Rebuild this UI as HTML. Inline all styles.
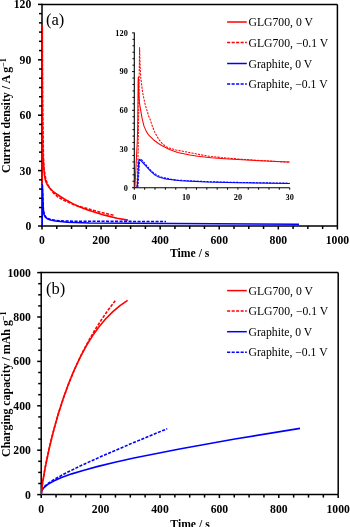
<!DOCTYPE html><html><head><meta charset="utf-8"><style>html,body{margin:0;padding:0;background:#fff;width:350px;height:527px;overflow:hidden}</style></head><body><svg width="350" height="527" viewBox="0 0 350 527" style="display:block;will-change:transform;font-family:'Liberation Serif',serif">
<defs><clipPath id="ca"><rect x="42.0" y="4.4" width="295.4" height="221.6"/></clipPath><clipPath id="ci"><rect x="134.3" y="30.9" width="156.39999999999998" height="156.79999999999998"/></clipPath><clipPath id="cb"><rect x="41.2" y="272.6" width="297.0" height="222.0"/></clipPath></defs>
<rect x="0" y="0" width="350" height="527" fill="#fff"/>
<line x1="42.00" y1="4.40" x2="337.40" y2="4.40" stroke="#000" stroke-width="1.5" />
<line x1="337.40" y1="4.40" x2="337.40" y2="226.00" stroke="#000" stroke-width="1.5" />
<line x1="42.00" y1="226.00" x2="337.40" y2="226.00" stroke="#000" stroke-width="1.5" />
<line x1="42.00" y1="3.65" x2="42.00" y2="226.75" stroke="#000" stroke-width="1.5" />
<line x1="38.00" y1="226.00" x2="42.00" y2="226.00" stroke="#000" stroke-width="1.5" />
<line x1="39.00" y1="216.77" x2="42.00" y2="216.77" stroke="#000" stroke-width="1.5" />
<line x1="39.00" y1="207.53" x2="42.00" y2="207.53" stroke="#000" stroke-width="1.5" />
<line x1="39.00" y1="198.30" x2="42.00" y2="198.30" stroke="#000" stroke-width="1.5" />
<line x1="39.00" y1="189.07" x2="42.00" y2="189.07" stroke="#000" stroke-width="1.5" />
<line x1="39.00" y1="179.83" x2="42.00" y2="179.83" stroke="#000" stroke-width="1.5" />
<line x1="38.00" y1="170.60" x2="42.00" y2="170.60" stroke="#000" stroke-width="1.5" />
<line x1="39.00" y1="161.37" x2="42.00" y2="161.37" stroke="#000" stroke-width="1.5" />
<line x1="39.00" y1="152.13" x2="42.00" y2="152.13" stroke="#000" stroke-width="1.5" />
<line x1="39.00" y1="142.90" x2="42.00" y2="142.90" stroke="#000" stroke-width="1.5" />
<line x1="39.00" y1="133.67" x2="42.00" y2="133.67" stroke="#000" stroke-width="1.5" />
<line x1="39.00" y1="124.43" x2="42.00" y2="124.43" stroke="#000" stroke-width="1.5" />
<line x1="38.00" y1="115.20" x2="42.00" y2="115.20" stroke="#000" stroke-width="1.5" />
<line x1="39.00" y1="105.97" x2="42.00" y2="105.97" stroke="#000" stroke-width="1.5" />
<line x1="39.00" y1="96.73" x2="42.00" y2="96.73" stroke="#000" stroke-width="1.5" />
<line x1="39.00" y1="87.50" x2="42.00" y2="87.50" stroke="#000" stroke-width="1.5" />
<line x1="39.00" y1="78.27" x2="42.00" y2="78.27" stroke="#000" stroke-width="1.5" />
<line x1="39.00" y1="69.03" x2="42.00" y2="69.03" stroke="#000" stroke-width="1.5" />
<line x1="38.00" y1="59.80" x2="42.00" y2="59.80" stroke="#000" stroke-width="1.5" />
<line x1="39.00" y1="50.57" x2="42.00" y2="50.57" stroke="#000" stroke-width="1.5" />
<line x1="39.00" y1="41.33" x2="42.00" y2="41.33" stroke="#000" stroke-width="1.5" />
<line x1="39.00" y1="32.10" x2="42.00" y2="32.10" stroke="#000" stroke-width="1.5" />
<line x1="39.00" y1="22.87" x2="42.00" y2="22.87" stroke="#000" stroke-width="1.5" />
<line x1="39.00" y1="13.63" x2="42.00" y2="13.63" stroke="#000" stroke-width="1.5" />
<line x1="38.00" y1="4.40" x2="42.00" y2="4.40" stroke="#000" stroke-width="1.5" />
<text x="31.30" y="229.90" font-size="11.7" font-weight="bold" text-anchor="end" >0</text>
<text x="31.30" y="174.50" font-size="11.7" font-weight="bold" text-anchor="end" >30</text>
<text x="31.30" y="119.10" font-size="11.7" font-weight="bold" text-anchor="end" >60</text>
<text x="31.30" y="63.70" font-size="11.7" font-weight="bold" text-anchor="end" >90</text>
<text x="31.30" y="8.30" font-size="11.7" font-weight="bold" text-anchor="end" >120</text>
<line x1="42.00" y1="226.00" x2="42.00" y2="229.50" stroke="#000" stroke-width="1.5" />
<line x1="56.77" y1="226.00" x2="56.77" y2="229.00" stroke="#000" stroke-width="1.5" />
<line x1="71.54" y1="226.00" x2="71.54" y2="229.00" stroke="#000" stroke-width="1.5" />
<line x1="86.31" y1="226.00" x2="86.31" y2="229.00" stroke="#000" stroke-width="1.5" />
<line x1="101.08" y1="226.00" x2="101.08" y2="229.50" stroke="#000" stroke-width="1.5" />
<line x1="115.85" y1="226.00" x2="115.85" y2="229.00" stroke="#000" stroke-width="1.5" />
<line x1="130.62" y1="226.00" x2="130.62" y2="229.00" stroke="#000" stroke-width="1.5" />
<line x1="145.39" y1="226.00" x2="145.39" y2="229.00" stroke="#000" stroke-width="1.5" />
<line x1="160.16" y1="226.00" x2="160.16" y2="229.50" stroke="#000" stroke-width="1.5" />
<line x1="174.93" y1="226.00" x2="174.93" y2="229.00" stroke="#000" stroke-width="1.5" />
<line x1="189.70" y1="226.00" x2="189.70" y2="229.00" stroke="#000" stroke-width="1.5" />
<line x1="204.47" y1="226.00" x2="204.47" y2="229.00" stroke="#000" stroke-width="1.5" />
<line x1="219.24" y1="226.00" x2="219.24" y2="229.50" stroke="#000" stroke-width="1.5" />
<line x1="234.01" y1="226.00" x2="234.01" y2="229.00" stroke="#000" stroke-width="1.5" />
<line x1="248.78" y1="226.00" x2="248.78" y2="229.00" stroke="#000" stroke-width="1.5" />
<line x1="263.55" y1="226.00" x2="263.55" y2="229.00" stroke="#000" stroke-width="1.5" />
<line x1="278.32" y1="226.00" x2="278.32" y2="229.50" stroke="#000" stroke-width="1.5" />
<line x1="293.09" y1="226.00" x2="293.09" y2="229.00" stroke="#000" stroke-width="1.5" />
<line x1="307.86" y1="226.00" x2="307.86" y2="229.00" stroke="#000" stroke-width="1.5" />
<line x1="322.63" y1="226.00" x2="322.63" y2="229.00" stroke="#000" stroke-width="1.5" />
<line x1="337.40" y1="226.00" x2="337.40" y2="229.50" stroke="#000" stroke-width="1.5" />
<text x="42.00" y="243.70" font-size="11.7" font-weight="bold" text-anchor="middle" >0</text>
<text x="101.08" y="243.70" font-size="11.7" font-weight="bold" text-anchor="middle" >200</text>
<text x="160.16" y="243.70" font-size="11.7" font-weight="bold" text-anchor="middle" >400</text>
<text x="219.24" y="243.70" font-size="11.7" font-weight="bold" text-anchor="middle" >600</text>
<text x="278.32" y="243.70" font-size="11.7" font-weight="bold" text-anchor="middle" >800</text>
<text x="337.40" y="243.70" font-size="11.7" font-weight="bold" text-anchor="middle" >1000</text>
<text x="189.70" y="256.90" font-size="11.7" font-weight="bold" text-anchor="middle" >Time / s</text>
<text transform="translate(10.2,172.9) rotate(-90)" font-size="11.9" font-weight="bold">Current density / A g<tspan font-size="8" dy="-4.5">&#8722;1</tspan></text>
<text x="46.00" y="24.80" font-size="16.5" font-weight="normal" text-anchor="start" >(a)</text>
<line x1="134.30" y1="32.40" x2="134.30" y2="188.20" stroke="#000" stroke-width="1.1" />
<line x1="134.30" y1="187.70" x2="289.70" y2="187.70" stroke="#000" stroke-width="1.1" />
<line x1="132.10" y1="187.70" x2="134.30" y2="187.70" stroke="#000" stroke-width="1.0" />
<line x1="132.50" y1="181.25" x2="134.30" y2="181.25" stroke="#000" stroke-width="1.0" />
<line x1="132.50" y1="174.80" x2="134.30" y2="174.80" stroke="#000" stroke-width="1.0" />
<line x1="132.50" y1="168.35" x2="134.30" y2="168.35" stroke="#000" stroke-width="1.0" />
<line x1="132.50" y1="161.90" x2="134.30" y2="161.90" stroke="#000" stroke-width="1.0" />
<line x1="132.50" y1="155.45" x2="134.30" y2="155.45" stroke="#000" stroke-width="1.0" />
<line x1="132.10" y1="149.00" x2="134.30" y2="149.00" stroke="#000" stroke-width="1.0" />
<line x1="132.50" y1="142.55" x2="134.30" y2="142.55" stroke="#000" stroke-width="1.0" />
<line x1="132.50" y1="136.10" x2="134.30" y2="136.10" stroke="#000" stroke-width="1.0" />
<line x1="132.50" y1="129.65" x2="134.30" y2="129.65" stroke="#000" stroke-width="1.0" />
<line x1="132.50" y1="123.20" x2="134.30" y2="123.20" stroke="#000" stroke-width="1.0" />
<line x1="132.50" y1="116.75" x2="134.30" y2="116.75" stroke="#000" stroke-width="1.0" />
<line x1="132.10" y1="110.30" x2="134.30" y2="110.30" stroke="#000" stroke-width="1.0" />
<line x1="132.50" y1="103.85" x2="134.30" y2="103.85" stroke="#000" stroke-width="1.0" />
<line x1="132.50" y1="97.40" x2="134.30" y2="97.40" stroke="#000" stroke-width="1.0" />
<line x1="132.50" y1="90.95" x2="134.30" y2="90.95" stroke="#000" stroke-width="1.0" />
<line x1="132.50" y1="84.50" x2="134.30" y2="84.50" stroke="#000" stroke-width="1.0" />
<line x1="132.50" y1="78.05" x2="134.30" y2="78.05" stroke="#000" stroke-width="1.0" />
<line x1="132.10" y1="71.60" x2="134.30" y2="71.60" stroke="#000" stroke-width="1.0" />
<line x1="132.50" y1="65.15" x2="134.30" y2="65.15" stroke="#000" stroke-width="1.0" />
<line x1="132.50" y1="58.70" x2="134.30" y2="58.70" stroke="#000" stroke-width="1.0" />
<line x1="132.50" y1="52.25" x2="134.30" y2="52.25" stroke="#000" stroke-width="1.0" />
<line x1="132.50" y1="45.80" x2="134.30" y2="45.80" stroke="#000" stroke-width="1.0" />
<line x1="132.50" y1="39.35" x2="134.30" y2="39.35" stroke="#000" stroke-width="1.0" />
<line x1="132.10" y1="32.90" x2="134.30" y2="32.90" stroke="#000" stroke-width="1.0" />
<text x="127.80" y="190.50" font-size="8.3" font-weight="bold" text-anchor="end" >0</text>
<text x="127.80" y="151.80" font-size="8.3" font-weight="bold" text-anchor="end" >30</text>
<text x="127.80" y="113.10" font-size="8.3" font-weight="bold" text-anchor="end" >60</text>
<text x="127.80" y="74.40" font-size="8.3" font-weight="bold" text-anchor="end" >90</text>
<text x="127.80" y="35.70" font-size="8.3" font-weight="bold" text-anchor="end" >120</text>
<line x1="134.30" y1="187.70" x2="134.30" y2="189.70" stroke="#000" stroke-width="1.0" />
<line x1="144.66" y1="187.70" x2="144.66" y2="189.70" stroke="#000" stroke-width="1.0" />
<line x1="155.02" y1="187.70" x2="155.02" y2="189.70" stroke="#000" stroke-width="1.0" />
<line x1="165.38" y1="187.70" x2="165.38" y2="189.70" stroke="#000" stroke-width="1.0" />
<line x1="175.74" y1="187.70" x2="175.74" y2="189.70" stroke="#000" stroke-width="1.0" />
<line x1="186.10" y1="187.70" x2="186.10" y2="189.70" stroke="#000" stroke-width="1.0" />
<line x1="196.46" y1="187.70" x2="196.46" y2="189.70" stroke="#000" stroke-width="1.0" />
<line x1="206.82" y1="187.70" x2="206.82" y2="189.70" stroke="#000" stroke-width="1.0" />
<line x1="217.18" y1="187.70" x2="217.18" y2="189.70" stroke="#000" stroke-width="1.0" />
<line x1="227.54" y1="187.70" x2="227.54" y2="189.70" stroke="#000" stroke-width="1.0" />
<line x1="237.90" y1="187.70" x2="237.90" y2="189.70" stroke="#000" stroke-width="1.0" />
<line x1="248.26" y1="187.70" x2="248.26" y2="189.70" stroke="#000" stroke-width="1.0" />
<line x1="258.62" y1="187.70" x2="258.62" y2="189.70" stroke="#000" stroke-width="1.0" />
<line x1="268.98" y1="187.70" x2="268.98" y2="189.70" stroke="#000" stroke-width="1.0" />
<line x1="279.34" y1="187.70" x2="279.34" y2="189.70" stroke="#000" stroke-width="1.0" />
<line x1="289.70" y1="187.70" x2="289.70" y2="189.70" stroke="#000" stroke-width="1.0" />
<text x="134.30" y="199.90" font-size="8.3" font-weight="bold" text-anchor="middle" >0</text>
<text x="186.10" y="199.90" font-size="8.3" font-weight="bold" text-anchor="middle" >10</text>
<text x="237.90" y="199.90" font-size="8.3" font-weight="bold" text-anchor="middle" >20</text>
<text x="289.70" y="199.90" font-size="8.3" font-weight="bold" text-anchor="middle" >30</text>
<path d="M42.00,226.00 L42.18,207.51 L42.30,25.46 L42.54,98.47 L43.41,157.02 L44.07,169.87 L45.93,179.52 L46.69,182.18 L48.00,185.12 L49.64,187.92 L53.56,193.13 L57.89,196.81 L63.14,199.95 L72.96,204.28 L77.08,205.77 L98.94,211.87 L114.31,215.47" fill="none" stroke="#ff0000" stroke-width="1.6" stroke-linejoin="round" stroke-dasharray="3.1 1.4" clip-path="url(#ca)"/>
<path d="M42.00,226.00 L42.24,67.56 L42.47,130.01 L42.98,154.76 L43.57,165.79 L44.47,175.46 L45.45,180.41 L46.87,183.97 L49.80,188.27 L52.93,191.27 L55.75,193.48 L66.60,200.32 L72.72,203.67 L77.34,205.89 L87.80,210.00 L104.53,215.14 L117.03,218.27 L127.90,220.09" fill="none" stroke="#ff0000" stroke-width="1.6" stroke-linejoin="round" clip-path="url(#ca)"/>
<path d="M42.00,226.00 L42.16,225.95 L42.21,223.82 L42.34,184.82 L43.22,206.90 L43.59,211.15 L44.14,214.11 L45.04,216.04 L46.17,217.30 L47.82,218.39 L50.41,219.41 L56.30,220.61 L69.15,221.16 L166.07,221.57" fill="none" stroke="#0000ff" stroke-width="1.6" stroke-linejoin="round" stroke-dasharray="3.1 1.4" clip-path="url(#ca)"/>
<path d="M42.00,226.00 L42.18,222.55 L42.28,185.56 L43.22,208.54 L43.66,212.73 L44.25,215.13 L45.56,217.27 L47.72,218.89 L50.72,220.05 L55.62,221.03 L67.19,222.21 L89.43,222.93 L299.00,224.25" fill="none" stroke="#0000ff" stroke-width="1.6" stroke-linejoin="round" clip-path="url(#ca)"/>
<path d="M134.30,187.70 L136.63,187.70 L136.73,187.51 L137.49,174.78 L138.16,150.97 L139.58,47.61 L140.22,68.38 L140.85,78.26 L142.65,92.60 L144.98,103.83 L148.63,115.97 L150.19,119.58 L152.49,126.65 L154.78,132.12 L157.07,136.52 L159.40,140.12 L161.93,143.26 L164.46,145.47 L166.54,146.87 L168.57,147.80 L175.97,149.91 L202.69,155.13 L209.25,156.22 L221.00,157.53 L240.89,159.24 L289.70,162.37" fill="none" stroke="#ff0000" stroke-width="1.05" stroke-linejoin="round" stroke-dasharray="2.2 1.1" clip-path="url(#ci)"/>
<path d="M134.30,187.70 L134.80,187.53 L135.10,184.44 L137.29,140.93 L137.66,127.55 L138.13,81.26 L138.22,77.64 L138.44,77.02 L139.06,96.72 L139.47,103.10 L141.99,117.79 L143.98,126.12 L146.32,131.40 L147.83,133.81 L149.26,135.57 L154.39,140.52 L158.43,143.49 L161.62,145.50 L169.47,149.41 L177.67,152.41 L189.87,155.06 L197.75,156.25 L211.13,157.68 L228.69,158.95 L260.26,160.85 L289.70,162.09" fill="none" stroke="#ff0000" stroke-width="1.05" stroke-linejoin="round" clip-path="url(#ci)"/>
<path d="M134.30,187.70 L137.05,187.67 L137.54,187.16 L137.99,186.17 L139.54,162.49 L139.82,160.18 L140.21,158.93 L141.33,159.52 L142.51,160.63 L150.85,170.52 L153.07,172.46 L155.87,174.42 L158.74,175.99 L162.36,177.38 L172.38,179.49 L177.40,180.06 L189.21,180.84 L210.54,181.72 L242.53,182.50 L289.70,183.19" fill="none" stroke="#0000ff" stroke-width="1.05" stroke-linejoin="round" stroke-dasharray="2.2 1.1" clip-path="url(#ci)"/>
<path d="M134.30,187.70 L135.94,187.70 L136.50,187.44 L137.01,186.85 L137.38,185.29 L138.63,162.87 L138.85,160.67 L139.22,159.45 L140.93,160.61 L150.82,171.43 L155.05,175.11 L157.38,176.39 L160.37,177.54 L164.18,178.61 L167.95,179.33 L173.78,180.10 L180.62,180.68 L206.15,181.96 L237.76,182.80 L289.70,183.57" fill="none" stroke="#0000ff" stroke-width="1.05" stroke-linejoin="round" clip-path="url(#ci)"/>
<line x1="227.1" y1="22.00" x2="246.8" y2="22.00" stroke="#ff0000" stroke-width="1.5"/>
<text x="248.50" y="26.00" font-size="11.7" font-weight="normal" text-anchor="start" >GLG700, 0 V</text>
<line x1="227.1" y1="42.60" x2="246.8" y2="42.60" stroke="#ff0000" stroke-width="1.5" stroke-dasharray="3.1 1.4"/>
<text x="248.50" y="46.60" font-size="11.7" font-weight="normal" text-anchor="start" >GLG700, &#8722;0.1 V</text>
<line x1="227.1" y1="63.50" x2="246.8" y2="63.50" stroke="#0000ff" stroke-width="1.5"/>
<text x="248.50" y="67.50" font-size="11.7" font-weight="normal" text-anchor="start" >Graphite, 0 V</text>
<line x1="227.1" y1="84.00" x2="246.8" y2="84.00" stroke="#0000ff" stroke-width="1.5" stroke-dasharray="3.1 1.4"/>
<text x="248.50" y="88.00" font-size="11.7" font-weight="normal" text-anchor="start" >Graphite, &#8722;0.1 V</text>
<line x1="41.20" y1="272.60" x2="338.20" y2="272.60" stroke="#000" stroke-width="1.5" />
<line x1="338.20" y1="272.60" x2="338.20" y2="494.60" stroke="#000" stroke-width="1.5" />
<line x1="41.20" y1="494.60" x2="338.20" y2="494.60" stroke="#000" stroke-width="1.5" />
<line x1="41.20" y1="271.85" x2="41.20" y2="495.35" stroke="#000" stroke-width="1.5" />
<line x1="37.20" y1="494.60" x2="41.20" y2="494.60" stroke="#000" stroke-width="1.5" />
<line x1="38.20" y1="483.50" x2="41.20" y2="483.50" stroke="#000" stroke-width="1.5" />
<line x1="38.20" y1="472.40" x2="41.20" y2="472.40" stroke="#000" stroke-width="1.5" />
<line x1="38.20" y1="461.30" x2="41.20" y2="461.30" stroke="#000" stroke-width="1.5" />
<line x1="37.20" y1="450.20" x2="41.20" y2="450.20" stroke="#000" stroke-width="1.5" />
<line x1="38.20" y1="439.10" x2="41.20" y2="439.10" stroke="#000" stroke-width="1.5" />
<line x1="38.20" y1="428.00" x2="41.20" y2="428.00" stroke="#000" stroke-width="1.5" />
<line x1="38.20" y1="416.90" x2="41.20" y2="416.90" stroke="#000" stroke-width="1.5" />
<line x1="37.20" y1="405.80" x2="41.20" y2="405.80" stroke="#000" stroke-width="1.5" />
<line x1="38.20" y1="394.70" x2="41.20" y2="394.70" stroke="#000" stroke-width="1.5" />
<line x1="38.20" y1="383.60" x2="41.20" y2="383.60" stroke="#000" stroke-width="1.5" />
<line x1="38.20" y1="372.50" x2="41.20" y2="372.50" stroke="#000" stroke-width="1.5" />
<line x1="37.20" y1="361.40" x2="41.20" y2="361.40" stroke="#000" stroke-width="1.5" />
<line x1="38.20" y1="350.30" x2="41.20" y2="350.30" stroke="#000" stroke-width="1.5" />
<line x1="38.20" y1="339.20" x2="41.20" y2="339.20" stroke="#000" stroke-width="1.5" />
<line x1="38.20" y1="328.10" x2="41.20" y2="328.10" stroke="#000" stroke-width="1.5" />
<line x1="37.20" y1="317.00" x2="41.20" y2="317.00" stroke="#000" stroke-width="1.5" />
<line x1="38.20" y1="305.90" x2="41.20" y2="305.90" stroke="#000" stroke-width="1.5" />
<line x1="38.20" y1="294.80" x2="41.20" y2="294.80" stroke="#000" stroke-width="1.5" />
<line x1="38.20" y1="283.70" x2="41.20" y2="283.70" stroke="#000" stroke-width="1.5" />
<line x1="37.20" y1="272.60" x2="41.20" y2="272.60" stroke="#000" stroke-width="1.5" />
<text x="30.90" y="498.50" font-size="11.7" font-weight="bold" text-anchor="end" >0</text>
<text x="30.90" y="454.10" font-size="11.7" font-weight="bold" text-anchor="end" >200</text>
<text x="30.90" y="409.70" font-size="11.7" font-weight="bold" text-anchor="end" >400</text>
<text x="30.90" y="365.30" font-size="11.7" font-weight="bold" text-anchor="end" >600</text>
<text x="30.90" y="320.90" font-size="11.7" font-weight="bold" text-anchor="end" >800</text>
<text x="30.90" y="276.50" font-size="11.7" font-weight="bold" text-anchor="end" >1000</text>
<line x1="41.20" y1="494.60" x2="41.20" y2="498.10" stroke="#000" stroke-width="1.5" />
<line x1="56.05" y1="494.60" x2="56.05" y2="497.60" stroke="#000" stroke-width="1.5" />
<line x1="70.90" y1="494.60" x2="70.90" y2="497.60" stroke="#000" stroke-width="1.5" />
<line x1="85.75" y1="494.60" x2="85.75" y2="497.60" stroke="#000" stroke-width="1.5" />
<line x1="100.60" y1="494.60" x2="100.60" y2="498.10" stroke="#000" stroke-width="1.5" />
<line x1="115.45" y1="494.60" x2="115.45" y2="497.60" stroke="#000" stroke-width="1.5" />
<line x1="130.30" y1="494.60" x2="130.30" y2="497.60" stroke="#000" stroke-width="1.5" />
<line x1="145.15" y1="494.60" x2="145.15" y2="497.60" stroke="#000" stroke-width="1.5" />
<line x1="160.00" y1="494.60" x2="160.00" y2="498.10" stroke="#000" stroke-width="1.5" />
<line x1="174.85" y1="494.60" x2="174.85" y2="497.60" stroke="#000" stroke-width="1.5" />
<line x1="189.70" y1="494.60" x2="189.70" y2="497.60" stroke="#000" stroke-width="1.5" />
<line x1="204.55" y1="494.60" x2="204.55" y2="497.60" stroke="#000" stroke-width="1.5" />
<line x1="219.40" y1="494.60" x2="219.40" y2="498.10" stroke="#000" stroke-width="1.5" />
<line x1="234.25" y1="494.60" x2="234.25" y2="497.60" stroke="#000" stroke-width="1.5" />
<line x1="249.10" y1="494.60" x2="249.10" y2="497.60" stroke="#000" stroke-width="1.5" />
<line x1="263.95" y1="494.60" x2="263.95" y2="497.60" stroke="#000" stroke-width="1.5" />
<line x1="278.80" y1="494.60" x2="278.80" y2="498.10" stroke="#000" stroke-width="1.5" />
<line x1="293.65" y1="494.60" x2="293.65" y2="497.60" stroke="#000" stroke-width="1.5" />
<line x1="308.50" y1="494.60" x2="308.50" y2="497.60" stroke="#000" stroke-width="1.5" />
<line x1="323.35" y1="494.60" x2="323.35" y2="497.60" stroke="#000" stroke-width="1.5" />
<line x1="338.20" y1="494.60" x2="338.20" y2="498.10" stroke="#000" stroke-width="1.5" />
<text x="41.20" y="512.60" font-size="11.7" font-weight="bold" text-anchor="middle" >0</text>
<text x="100.60" y="512.60" font-size="11.7" font-weight="bold" text-anchor="middle" >200</text>
<text x="160.00" y="512.60" font-size="11.7" font-weight="bold" text-anchor="middle" >400</text>
<text x="219.40" y="512.60" font-size="11.7" font-weight="bold" text-anchor="middle" >600</text>
<text x="278.80" y="512.60" font-size="11.7" font-weight="bold" text-anchor="middle" >800</text>
<text x="338.20" y="512.60" font-size="11.7" font-weight="bold" text-anchor="middle" >1000</text>
<text x="190.00" y="528.00" font-size="11.7" font-weight="bold" text-anchor="middle" >Time / s</text>
<text transform="translate(10.0,456.9) rotate(-90)" font-size="11.9" font-weight="bold">Charging capacity / mAh g<tspan font-size="8" dy="-4.5">&#8722;1</tspan></text>
<text x="46.00" y="294.00" font-size="16.5" font-weight="normal" text-anchor="start" >(b)</text>
<path d="M41.20,494.60 L41.35,491.89 L41.98,489.87 L43.29,487.83 L45.40,485.64 L48.45,483.20 L52.60,480.42 L64.09,473.93 L81.18,465.52 L103.79,455.32 L132.46,443.06 L167.20,428.75" fill="none" stroke="#0000ff" stroke-width="1.6" stroke-linejoin="round" stroke-dasharray="3.1 1.4" clip-path="url(#cb)"/>
<path d="M41.20,494.60 L41.33,492.63 L41.78,490.95 L42.65,489.26 L43.92,487.64 L47.82,484.36 L53.72,480.98 L61.46,477.58 L71.80,473.87 L83.97,470.15 L97.97,466.37 L115.01,462.23 L133.87,458.03 L179.51,448.91 L234.89,439.03 L300.00,428.37" fill="none" stroke="#0000ff" stroke-width="1.6" stroke-linejoin="round" clip-path="url(#cb)"/>
<path d="M41.20,494.60 L42.29,484.80 L44.77,469.79 L47.82,454.53 L51.29,439.52 L55.03,425.24 L59.10,411.37 L63.48,397.98 L68.16,385.13 L72.98,373.14 L78.09,361.59 L83.50,350.47 L89.35,339.51 L95.34,329.25 L101.62,319.41 L108.34,309.76 L115.50,300.30" fill="none" stroke="#ff0000" stroke-width="1.6" stroke-linejoin="round" stroke-dasharray="3.1 1.4" clip-path="url(#cb)"/>
<path d="M41.20,494.60 L42.56,482.94 L45.65,465.23 L49.58,446.81 L54.00,429.01 L58.61,412.80 L63.73,396.95 L69.20,382.05 L74.84,368.53 L80.49,356.62 L86.31,345.83 L92.49,335.84 L98.84,326.96 L105.54,318.96 L112.60,311.83 L120.01,305.59 L127.60,300.40" fill="none" stroke="#ff0000" stroke-width="1.6" stroke-linejoin="round" clip-path="url(#cb)"/>
<line x1="227.1" y1="290.60" x2="246.8" y2="290.60" stroke="#ff0000" stroke-width="1.5"/>
<text x="248.50" y="294.60" font-size="11.7" font-weight="normal" text-anchor="start" >GLG700, 0 V</text>
<line x1="227.1" y1="311.10" x2="246.8" y2="311.10" stroke="#ff0000" stroke-width="1.5" stroke-dasharray="3.1 1.4"/>
<text x="248.50" y="315.10" font-size="11.7" font-weight="normal" text-anchor="start" >GLG700, &#8722;0.1 V</text>
<line x1="227.1" y1="331.70" x2="246.8" y2="331.70" stroke="#0000ff" stroke-width="1.5"/>
<text x="248.50" y="335.70" font-size="11.7" font-weight="normal" text-anchor="start" >Graphite, 0 V</text>
<line x1="227.1" y1="352.30" x2="246.8" y2="352.30" stroke="#0000ff" stroke-width="1.5" stroke-dasharray="3.1 1.4"/>
<text x="248.50" y="356.30" font-size="11.7" font-weight="normal" text-anchor="start" >Graphite, &#8722;0.1 V</text>
</svg></body></html>
